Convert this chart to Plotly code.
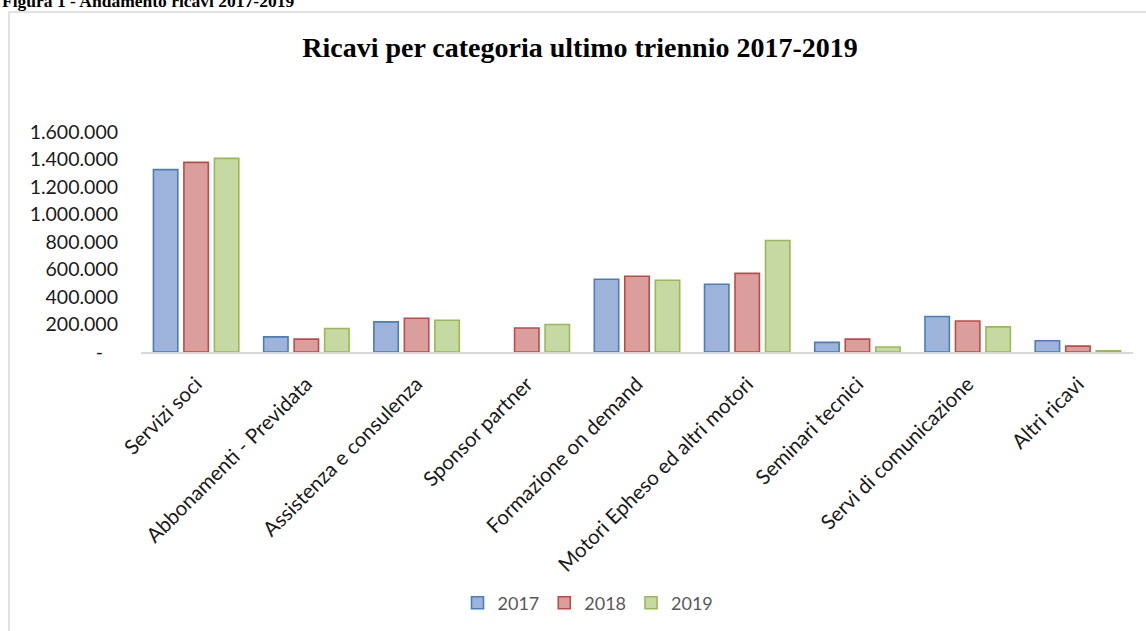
import plotly.graph_objects as go

categories = ["Servizi soci", "Abbonamenti - Previdata", "Assistenza e consulenza",
              "Sponsor partner", "Formazione on demand", "Motori Epheso ed altri motori",
              "Seminari tecnici", "Servi di comunicazione", "Altri ricavi"]
years = ["2017", "2018", "2019"]
v2017 = [1326000, 110000, 219000, None, 529000, 493000, 70000, 258000, 82000]
v2018 = [1379000, 94000, 245000, 175000, 551000, 572000, 94000, 226000, 43000]
v2019 = [1408000, 171000, 231000, 200000, 522000, 811000, 36000, 183000, 9000]
tick_vals = [0, 200000, 400000, 600000, 800000, 1000000, 1200000, 1400000, 1600000]
tick_text = ["-\u00a0\u00a0\u00a0", "200.000", "400.000", "600.000", "800.000",
             "1.000.000", "1.200.000", "1.400.000", "1.600.000"]

fills = ["#9DB3DA", "#DA9F9D", "#C6D9A2"]
borders = ["#4A7EBB", "#BE4B48", "#98B954"]

W, H = 1146, 631
L, R, T, B = 141, 13, 132, 278
pw, ph = W - L - R, H - T - B


def px_x(x):
    return (x - L) / pw


def px_y(y):
    return (H - B - y) / ph


fig = go.Figure()
for name, vals, fc, bc in zip(years, [v2017, v2018, v2019], fills, borders):
    fig.add_trace(go.Bar(x=categories, y=vals, name=name,
                         marker=dict(color=fc, line=dict(color=bc, width=1.6))))

fig.update_layout(
    width=W, height=H,
    margin=dict(l=L, r=R, t=T, b=B),
    paper_bgcolor="white", plot_bgcolor="white",
    barmode="group", bargap=0.17, bargroupgap=0.2,
    title=dict(text="<b>Ricavi per categoria ultimo triennio 2017-2019</b>",
               x=580 / W, xanchor="center", y=1 - 47 / H, yanchor="middle",
               font=dict(family="Liberation Serif", size=28, color="#000000")),
    font=dict(family="Lato", size=19, color="#1a1a1a"),
    xaxis=dict(tickangle=-45, showline=True, linecolor="#D9D9D9", linewidth=2,
               ticks="", showgrid=False, ticklabelstandoff=10,
               tickfont=dict(family="Lato", size=20.5, color="#1a1a1a")),
    yaxis=dict(range=[0, 1600000], tickvals=tick_vals, ticktext=tick_text,
               showgrid=False, zeroline=False, showline=False, ticks="",
               ticklabelstandoff=22,
               tickfont=dict(family="Lato", size=19.5, color="#1a1a1a")),
    legend=dict(orientation="h", x=px_x(588), xanchor="center", y=px_y(603), yanchor="middle",
                itemwidth=30,
                font=dict(family="Lato", size=18, color="#595959")),
    shapes=[dict(type="rect", xref="paper", yref="paper",
                 x0=px_x(9), x1=px_x(1170), y0=px_y(11.5), y1=px_y(660),
                 line=dict(color="#D9D9D9", width=1.5), fillcolor="rgba(0,0,0,0)", layer="below")],
    annotations=[dict(text="<b>Figura 1 - Andamento ricavi 2017-2019</b>", xref="paper", yref="paper",
                      x=px_x(0), xanchor="left", y=px_y(12), yanchor="bottom", showarrow=False,
                      font=dict(family="Liberation Serif", size=17.5, color="#000000"))],
)

fig.write_html("out.html")
